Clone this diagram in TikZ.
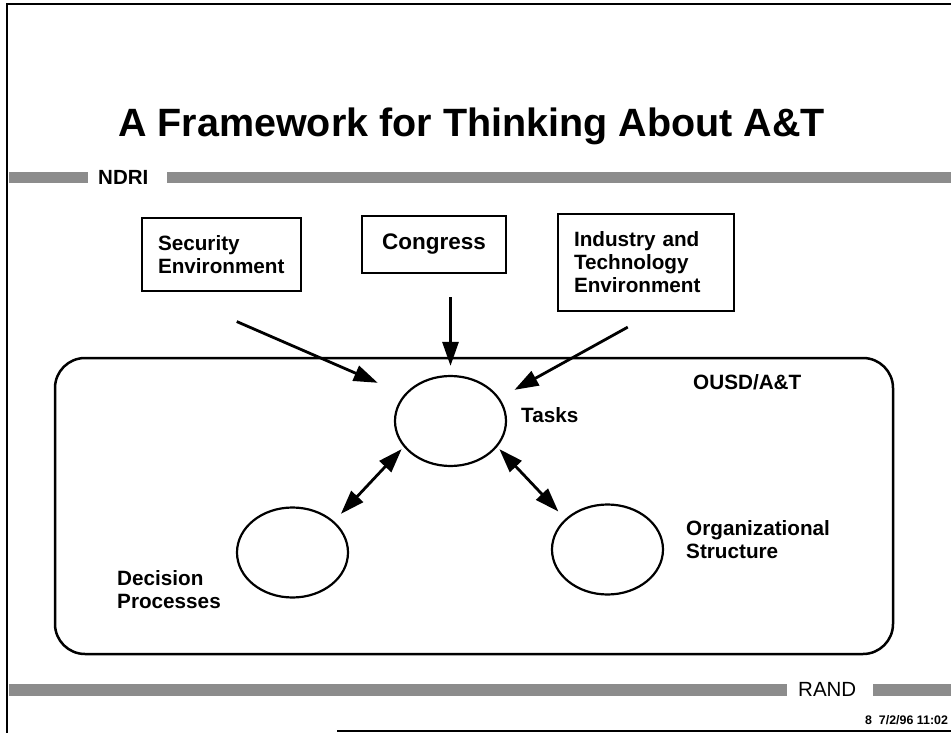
\documentclass[tikz,border=0pt]{standalone}
\usepackage{fontspec}
\setmainfont{Liberation Sans}
\usetikzlibrary{arrows.meta,shapes.geometric}

\begin{document}
\begin{tikzpicture}[x=1pt,y=-1pt,
   every node/.style={font=\bfseries\fontsize{20.7}{23}\selectfont},
   envbox/.style={draw,line width=2.2pt,align=left,inner xsep=16pt,inner ysep=0pt},
   blob/.style={draw,ellipse,line width=2.2pt,minimum width=111pt,minimum height=90pt,inner sep=0pt},
   lbl/.style={align=left,inner sep=0pt,anchor=west},
   band/.style={fill=black!45},
   feed/.style={-{Triangle[length=24pt,width=16pt]},line width=2.8pt},
   mutual/.style={{Triangle[length=24pt,width=16pt]}-{Triangle[length=24pt,width=16pt]},line width=2.8pt}]

   \useasboundingbox (0,0) rectangle (951,733);

   % page frame and grey bands
   \draw[line width=2.5pt] (7,733) -- (7,4) -- (951,4);
   \draw[line width=2pt] (337,731) -- (951,731);
   \fill[band] (9,172) rectangle (88,183);
   \fill[band] (167,172) rectangle (951,183);
   \fill[band] (9,684) rectangle (787,696);
   \fill[band] (873,684) rectangle (951,696);

   \node[anchor=base,font=\bfseries\fontsize{39.5}{44}\selectfont] (title) at (471.5,137) {A Framework for Thinking About A\&T};
   \node[lbl,font=\bfseries\fontsize{20.5}{22}\selectfont] (ndri) at (98,177.5) {NDRI};
   \node[lbl,font=\fontsize{20.5}{22}\selectfont] (rand) at (798,689) {RAND};
   \node[lbl,font=\bfseries\fontsize{12.4}{14}\selectfont] (stamp) at (865,720) {8 \ 7/2/96 11:02};

   \node[envbox,text width=127pt,minimum height=73pt] (sec) at (221.5,254.5) {Security\\Environment};
   \node[envbox,font=\bfseries\fontsize{22.5}{25}\selectfont,minimum width=144pt,minimum height=57pt,align=center] (cong) at (434,244.5) {Congress};
   \node[envbox,text width=144pt,minimum height=97pt] (ind) at (646,262.5) {Industry and\\Technology\\Environment};

   \node[draw,line width=2.5pt,rounded corners=30pt,minimum width=838pt,minimum height=296pt] (ousd) at (474,506) {};
   \node[lbl] (ousdlbl) at (693,382) {OUSD/A\&T};

   \node[blob] (tasks) at (450.5,421) {};
   \node[blob] (dec) at (292.5,552.5) {};
   \node[blob] (org) at (607.5,549.5) {};
   \node[lbl] (taskslbl) at (521,415) {Tasks};
   \node[lbl] (declbl) at (117,589.5) {Decision\\Processes};
   \node[lbl] (orglbl) at (686,540) {Organizational\\Structure};

   \draw[feed,shorten <=74pt,shorten >=29pt] ([shift={(28,0)}]sec.south west) -- (tasks.150);
   \draw[feed,shorten <=23pt,shorten >=9pt] (cong.south -| tasks.north) -- (tasks.north);
   \draw[feed,shorten <=31pt,shorten >=17pt] ([shift={(98,0)}]ind.south west) -- (tasks.25);
   \draw[mutual,shorten <=3pt,shorten >=10pt] (tasks.209) -- (dec.37.5);
   \draw[mutual,shorten <=3pt,shorten >=10pt] (tasks.331.5) -- (org.144);
\end{tikzpicture}
\end{document}
